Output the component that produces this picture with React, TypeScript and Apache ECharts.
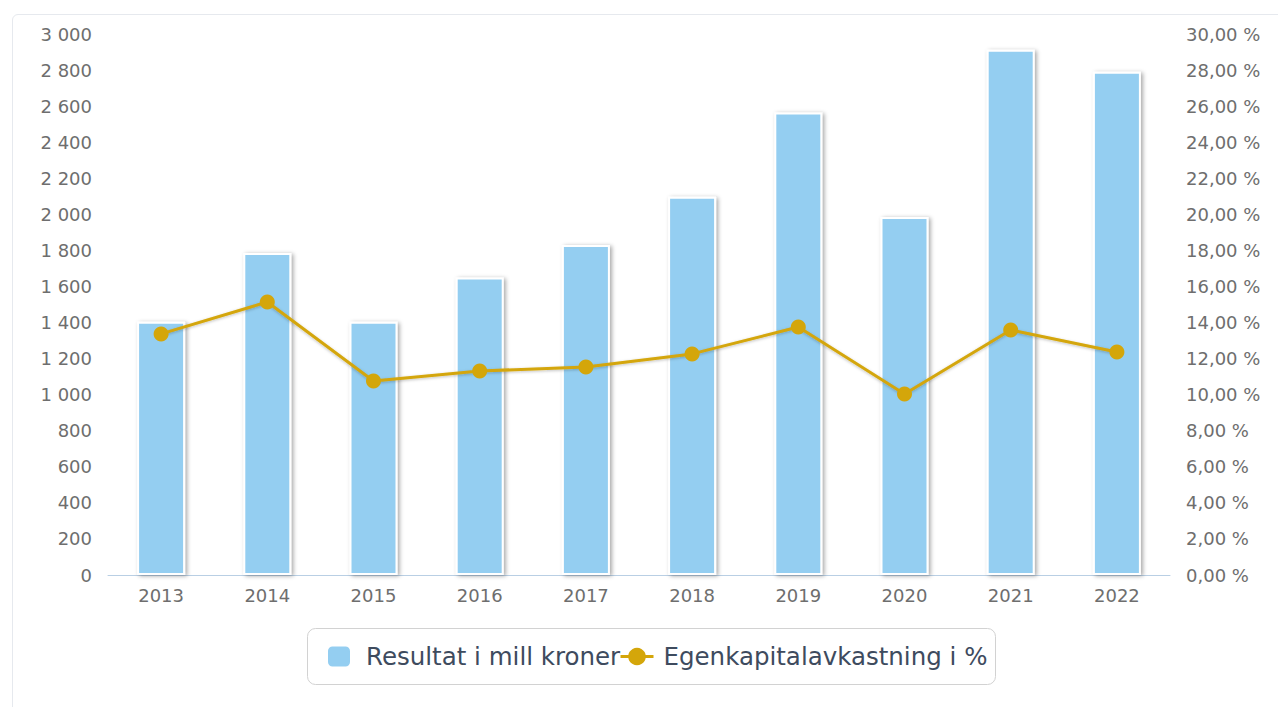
import React, { useEffect, useRef } from "react";
import * as echarts from "echarts";

const categories = ["2013", "2014", "2015", "2016", "2017", "2018", "2019", "2020", "2021", "2022"];
const resultat = [1405, 1785, 1405, 1650, 1830, 2098, 2565, 1985, 2912, 2790];
const egenkapital = [13.37, 15.14, 10.76, 11.31, 11.54, 12.26, 13.75, 10.04, 13.59, 12.37];
const barName = "Resultat i mill kroner";
const lineName = "Egenkapitalavkastning i %";

const FONT = "'DejaVu Sans', 'Noto Sans', sans-serif";
const LEGEND_TEXT = { color: "#3e4b5e", fontSize: 24.5, fontFamily: FONT };

export default function App() {
  const ref = useRef<HTMLDivElement>(null);
  useEffect(() => {
    if (!ref.current) return;
    const chart = echarts.init(ref.current, undefined, { renderer: "svg" });
    chart.setOption({
      animation: false,
      textStyle: { fontFamily: FONT },
      grid: { left: 108, right: 108, top: 34, bottom: 132 },
      graphic: [
        {
          type: "rect",
          left: 307,
          top: 628,
          shape: { width: 688, height: 56, r: 8 },
          style: { fill: "#fff", stroke: "#d2d2d2", lineWidth: 1 },
          z: -1,
        },
      ],
      legend: [
        {
          left: 326,
          top: 644,
          padding: 0,
          itemWidth: 24,
          itemHeight: 22,
          textStyle: { ...LEGEND_TEXT, padding: [0, 0, 0, 10] },
          data: [{ name: barName, icon: "roundRect" }],
        },
        {
          left: 619,
          top: 644,
          padding: 0,
          itemWidth: 33,
          itemHeight: 22,
          lineStyle: { width: 3 },
          textStyle: { ...LEGEND_TEXT, padding: [0, 0, 0, 5] },
          data: [{ name: lineName }],
        },
      ],
      xAxis: {
        type: "category",
        data: categories,
        axisLine: { lineStyle: { color: "#b9cfe4", width: 1 } },
        axisTick: { length: 8, lineStyle: { color: "#b9cfe4" } },
        axisLabel: { color: "#6e6e6e", fontSize: 18, margin: 11, fontFamily: FONT },
      },
      yAxis: [
        {
          type: "value",
          min: 0,
          max: 3000,
          interval: 200,
          axisLine: { show: false },
          axisTick: { show: false },
          axisLabel: {
            color: "#6e6e6e",
            fontSize: 18,
            margin: 16,
            fontFamily: FONT,
            formatter: (v: number) => String(v).replace(/\B(?=(\d{3})+(?!\d))/g, " "),
          },
          splitLine: {
            lineStyle: {
              color: "#c4c4c4",
              width: 1,
              shadowColor: "rgba(0,0,0,0.25)",
              shadowBlur: 2,
              shadowOffsetY: 1,
            },
          },
        },
        {
          type: "value",
          min: 0,
          max: 30,
          interval: 2,
          axisLine: { show: false },
          axisTick: { show: false },
          splitLine: { show: false },
          axisLabel: {
            color: "#6e6e6e",
            fontSize: 18,
            margin: 16,
            fontFamily: FONT,
            formatter: (v: number) => v.toFixed(2).replace(".", ",") + " %",
          },
        },
      ],
      series: [
        {
          name: barName,
          type: "bar",
          data: resultat,
          barWidth: 48,
          itemStyle: {
            color: "#94cef1",
            borderColor: "#ffffff",
            borderWidth: 2,
            shadowColor: "rgba(0,0,0,0.35)",
            shadowBlur: 4,
            shadowOffsetX: 2,
            shadowOffsetY: 1,
          },
        },
        {
          name: lineName,
          type: "line",
          yAxisIndex: 1,
          data: egenkapital,
          symbol: "circle",
          symbolSize: 15,
          itemStyle: { color: "#d4a60a" },
          lineStyle: {
            color: "#d4a60a",
            width: 3,
            shadowColor: "rgba(0,0,0,0.25)",
            shadowBlur: 3,
            shadowOffsetY: 1,
          },
        },
      ],
    });
    return () => chart.dispose();
  }, []);
  return (
    <div style={{ position: "absolute", left: 0, top: 0, width: 1278, height: 707, background: "#fff", overflow: "hidden" }}>
      <div
        style={{
          position: "absolute",
          left: 12,
          top: 14,
          width: 1280,
          height: 720,
          border: "1px solid #e6e9ee",
          borderRadius: 6,
          boxSizing: "border-box",
        }}
      />
      <div ref={ref} style={{ position: "absolute", left: 0, top: 0, width: 1278, height: 707 }} />
    </div>
  );
}
